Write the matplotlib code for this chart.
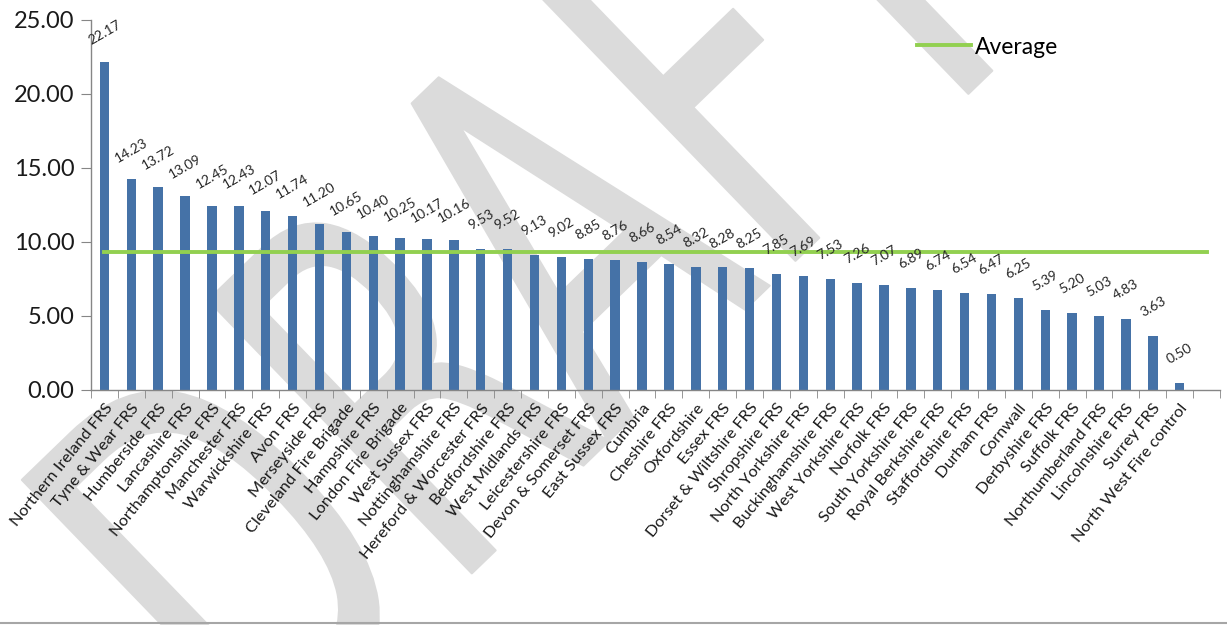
import matplotlib
matplotlib.use('Agg')
import matplotlib.pyplot as plt
from matplotlib.textpath import TextPath
from matplotlib.patches import PathPatch
from matplotlib.font_manager import FontProperties
from matplotlib.transforms import Affine2D
from matplotlib.lines import Line2D

plt.rcParams['font.family'] = ['Lato', 'DejaVu Sans']

services = ['Northern Ireland FRS', 'Tyne & Wear FRS', 'Humberside FRS', 'Lancashire FRS',
            'Northamptonshire FRS', 'Manchester FRS', 'Warwickshire FRS', 'Avon FRS',
            'Merseyside FRS', 'Cleveland Fire Brigade', 'Hampshire FRS', 'London Fire Brigade',
            'West Sussex FRS', 'Nottinghamshire FRS', 'Hereford & Worcester FRS', 'Bedfordshire FRS',
            'West Midlands FRS', 'Leicestershire FRS', 'Devon & Somerset FRS', 'East Sussex FRS',
            'Cumbria', 'Cheshire FRS', 'Oxfordshire', 'Essex FRS', 'Dorset & Wiltshire FRS',
            'Shropshire FRS', 'North Yorkshire FRS', 'Buckinghamshire FRS', 'West Yorkshire FRS',
            'Norfolk FRS', 'South Yorkshire FRS', 'Royal Berkshire FRS', 'Staffordshire FRS',
            'Durham FRS', 'Cornwall', 'Derbyshire FRS', 'Suffolk FRS', 'Northumberland FRS',
            'Lincolnshire FRS', 'Surrey FRS', 'North West Fire control', '']
values = [22.17, 14.23, 13.72, 13.09, 12.45, 12.43, 12.07, 11.74, 11.20, 10.65, 10.40, 10.25,
          10.17, 10.16, 9.53, 9.52, 9.13, 9.02, 8.85, 8.76, 8.66, 8.54, 8.32, 8.28, 8.25,
          7.85, 7.69, 7.53, 7.26, 7.07, 6.89, 6.74, 6.54, 6.47, 6.25, 5.39, 5.20, 5.03,
          4.83, 3.63, 0.50]
average = 9.34

W, H = 1227, 625
fig = plt.figure(figsize=(W / 100, H / 100), dpi=100)
ax = fig.add_axes([91 / W, 1 - 390 / H, (1220 - 91) / W, (390 - 20) / H])
ax.patch.set_alpha(0)

# DRAFT watermark, stretched and rotated like the Word one
tp = TextPath((0, 0), 'DRAFT', size=1, prop=FontProperties(family='DejaVu Sans'))
tr = (Affine2D().scale(336, 521).rotate_deg(44).translate(262, -151)
      .scale(1 / W, 1 / H))
wm = PathPatch(tr.transform_path(tp), facecolor='#dbdbdb', edgecolor='#dbdbdb',
               lw=1.5, joinstyle='round', transform=fig.transFigure, zorder=-1)
fig.add_artist(wm)

x = list(range(len(services)))
bars = ax.bar(x[:len(values)], values, width=0.35, color='#4572A7', zorder=2)
ax.plot(x, [average] * len(x), color='#92D050', lw=2.8, label='Average', zorder=3)

for i, v in enumerate(values):
    ax.annotate('{:.2f}'.format(v), (i, v), xytext=(0, 21), textcoords='offset points',
                ha='center', va='center', rotation=30, fontsize=10, color='#262626')

ax.set_xlim(-0.5, len(services) - 0.5)
ax.set_ylim(0, 25)
ax.set_yticks([0, 5, 10, 15, 20, 25])
ax.yaxis.set_major_formatter(plt.FuncFormatter('{:.2f}'.format))
ax.set_xticks(x)
ax.set_xticklabels(services, rotation=51, ha='right', rotation_mode='anchor', fontsize=11.8,
                   color='#1a1a1a')
ax.set_xticks([i - 0.5 for i in range(len(services) + 1)], minor=True)
ax.tick_params(axis='x', which='major', length=0, pad=8)
ax.tick_params(axis='x', which='minor', length=6, color='#868686')
ax.tick_params(axis='y', length=7, color='#868686', labelsize=17, labelcolor='#1a1a1a', pad=5)

for s in ['top', 'right']:
    ax.spines[s].set_visible(False)
for s in ['left', 'bottom']:
    ax.spines[s].set_color('#868686')
    ax.spines[s].set_linewidth(1)

ax.legend(loc='center left', bbox_to_anchor=(917 / W, 1 - 47 / H), bbox_transform=fig.transFigure,
          frameon=False, fontsize=16.5, handlelength=2.35, handletextpad=0.2, borderpad=0,
          borderaxespad=0)

fig.add_artist(Line2D([0, 1], [0.003, 0.003], color='#a6a6a6', lw=1.5, transform=fig.transFigure))

fig.savefig('out.png', dpi=100)
